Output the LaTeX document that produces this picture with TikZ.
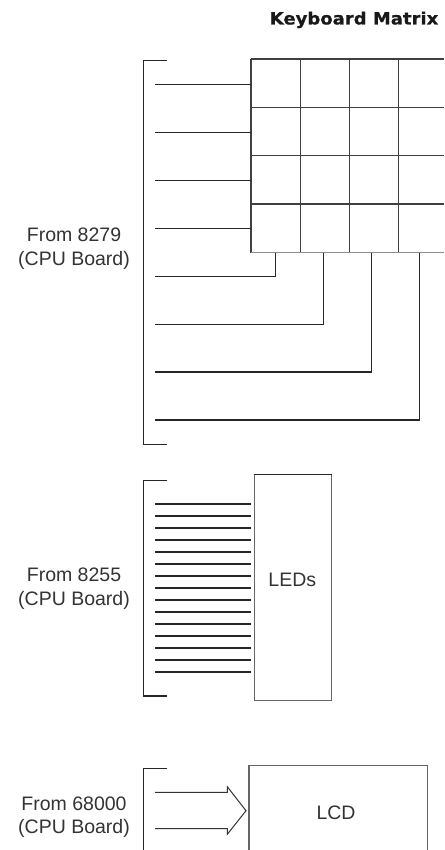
\documentclass[tikz,border=0pt]{standalone}
\usepackage{fontspec}
\setmainfont{Liberation Sans}
\newfontfamily\titlefont{DejaVu Sans}[FakeStretch=1.06, BoldFeatures={FakeBold=0.6}]
\begin{document}
\begin{tikzpicture}[x=1pt,y=-1pt,
  wire/.style={draw=black!85, line width=1.15pt},
  gridline/.style={draw=black!75, line width=1.25pt},
  boxline/.style={draw=black!60, line width=1.1pt},
  lbl/.style={font=\fontsize{19.5}{23}\selectfont, text=black!80, inner sep=0pt, anchor=base},
  inlbl/.style={font=\fontsize{19.5}{23}\selectfont, text=black!80, inner sep=0pt}]
\useasboundingbox (0,0) rectangle (444,850);

% title
\node[font=\titlefont\bfseries\fontsize{17}{20}\selectfont, text=black!90, anchor=base east, inner sep=0pt] (title) at (438.5,24.5) {Keyboard Matrix};

% ---------- keyboard matrix ----------
\foreach \x in {251,300.3,349.7,398.7} \draw[gridline] (\x,59) -- (\x,252.7);
\foreach \y in {59,107.3,155.7,204} \draw[gridline] (251,\y) -- (444,\y);
\draw[gridline, draw=black!45] (251,252.7) -- (444,252.7);

% bracket
\coordinate (b1t) at (166.7,60.7);
\coordinate (b1b) at (166.7,444.3);
\draw[wire] (b1t) -- (143.3,60.7) -- (143.3,444.3) -- (b1b);

% row wires
\foreach \y [count=\i] in {84.3,132.3,180.3,228.3} {
  \coordinate (rs\i) at (155,\y);
  \coordinate (re\i) at (251,\y);
  \draw[wire] (rs\i) -- (re\i);
}
% column wires
\foreach \x/\y [count=\i] in {275.7/276.3,323.3/324.3,371.3/372,419.3/420} {
  \coordinate (cs\i) at (\x,252.7);
  \coordinate (ce\i) at (155,\y);
  \draw[wire] (cs\i) |- (ce\i);
}

\node[lbl] (l1a) at (74,241.7) {From 8279};
\node[lbl] (l1b) at (74,265) {(CPU Board)};

% ---------- LEDs ----------
\coordinate (b2t) at (166.7,480.7);
\coordinate (b2b) at (166.7,696);
\draw[wire] (b2t) -- (143.3,480.7) -- (143.3,696) -- (b2b);

\node[boxline, minimum width=77.3pt, minimum height=225.7pt, inner sep=0pt, anchor=north west] (leds) at (253.7,474.3) {};
\draw[wire] (leds.north west) -- (leds.north east);
\node[inlbl] (ledtxt) at (292.3,579.5) {LEDs};

\foreach \y [count=\i] in {504,516,528,540,552,564,576,588,600,612,624,636,648,660,672} {
  \coordinate (ls\i) at (155,\y);
  \coordinate (le\i) at (250.7,\y);
  \draw[wire] (ls\i) -- (le\i);
}

\node[lbl] (l2a) at (74,581.7) {From 8255};
\node[lbl] (l2b) at (74,605) {(CPU Board)};

% ---------- LCD ----------
\coordinate (b3t) at (166.7,768.7);
\coordinate (b3b) at (143.3,852);
\draw[wire] (b3t) -- (143.3,768.7) -- (b3b);

\coordinate (lcdtl) at (249,765.3);
\coordinate (lcdtr) at (427.7,765.3);
\draw[boxline] (249,852) -- (lcdtl) -- (lcdtr) -- (427.7,852);
\node[inlbl] (lcdtxt) at (336,812.3) {LCD};

\coordinate (a1) at (155,792.3);
\coordinate (a2) at (155,828.7);
\coordinate (tip) at (246,810.7);
\draw[draw=black!80, line width=1pt, line join=miter] (a1) -- (227.3,792.3) -- (227.3,786.7) -- (tip) -- (227.3,834.3) -- (227.3,828.7) -- (a2);

\node[lbl] (l3a) at (74,810) {From 68000};
\node[lbl] (l3b) at (74,833) {(CPU Board)};
\end{tikzpicture}
\end{document}
